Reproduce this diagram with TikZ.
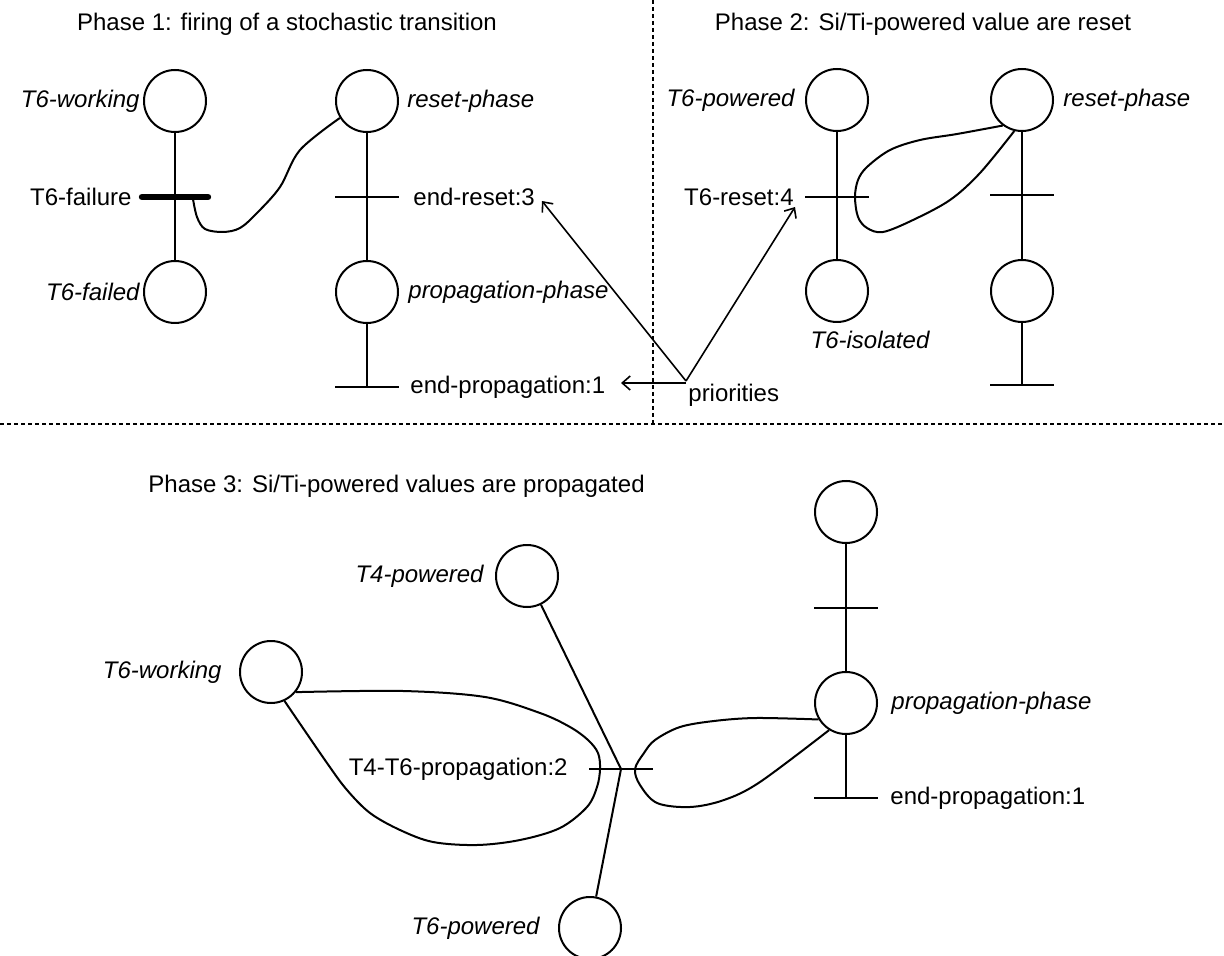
\documentclass[tikz,border=0pt]{standalone}
\usepackage{fontspec}
\setmainfont{Liberation Sans}
\usetikzlibrary{arrows.meta}
\begin{document}
\begin{tikzpicture}[x=0.5pt,y=-0.5pt,
  every node/.style={font=\fontsize{12}{14}\selectfont},
  place/.style={draw, circle, minimum size=31pt, inner sep=0pt, line width=1pt},
  lab/.style={font=\fontsize{12}{14}\selectfont\itshape, inner sep=0pt},
  tlab/.style={inner sep=0pt},
  tbar/.style={inner sep=0pt, outer sep=0pt, minimum width=32pt, minimum height=0pt},
  arc/.style={line width=1pt},
  barline/.style={line width=1pt},
  thickbar/.style={line width=3.2pt, line cap=round},
  sep/.style={line width=0.8pt, dash pattern=on 2pt off 1.5pt},
  prio/.style={line width=0.8pt, -{Straight Barb[length=4pt,width=7pt]}}
]
\fill[white] (0,0) rectangle (1224,956);
\useasboundingbox (0,0) rectangle (1224,956);

% separators
\draw[sep] (653,0) -- (653,424);
\draw[sep] (0,424) -- (1224,424);

% ---------------- Phase 1
\node[tlab] (title1) at (287,24) {Phase 1: firing of a stochastic transition};
\node[place] (p1w) at (175,101) {};
\node[lab, anchor=east] (l1w) at (140,101) {T6-working};
\node[place] (p1r) at (367,101) {};
\node[lab, anchor=west] (l1r) at (407,101) {reset-phase};
\node[tbar, minimum width=33pt] (t1f) at (175,197) {};
\node[tlab, anchor=east] (l1f) at (132,197) {T6-failure};
\node[tbar] (t1r) at (367,197) {};
\node[tlab, anchor=west] (l1er) at (413,197) {end-reset:3};
\node[place] (p1fd) at (175,292) {};
\node[lab, anchor=east] (l1fd) at (140,292) {T6-failed};
\node[place] (p1pp) at (367,292) {};
\node[lab, anchor=west] (l1pp) at (408,292) {propagation-phase};
\node[tbar] (t1p) at (367,387) {};
\node[tlab, anchor=west] (l1ep) at (410,387) {end-propagation:1};

\draw[thickbar] (t1f.west) -- (t1f.east);
\draw[barline] (t1r.west) -- (t1r.east);
\draw[barline] (t1p.west) -- (t1p.east);
\draw[arc] (p1w) -- (t1f.center) -- (p1fd);
\draw[arc] (p1r) -- (t1r.center) -- (p1pp);
\draw[arc] (p1pp) -- (t1p.center);
\coordinate (c1f) at (193,199);
\draw[arc] plot[smooth, tension=0.55] coordinates {(p1r.212) (300,150) (280,187) (257,213) (240,228) (223,232) (205,229) (197,217) (c1f)};

% priorities
\node[tlab, anchor=north west] (prio) at (688,384) {priorities};
\coordinate (pj) at (686,381);
\coordinate (pa1) at (542,201);
\coordinate (pa2) at (795,207);
\coordinate (pa3) at (621,383);
\draw[prio] (pj) -- (pa1);
\draw[prio] (pj) -- (pa2);
\draw[prio] (686,383) -- (pa3);

% ---------------- Phase 2
\node[tlab] (title2) at (923,24) {Phase 2: Si/Ti-powered value are reset};
\node[place] (p2p) at (837,100) {};
\node[lab, anchor=east] (l2p) at (795,100) {T6-powered};
\node[place] (p2r) at (1022,100) {};
\node[lab, anchor=west] (l2r) at (1063,100) {reset-phase};
\node[tbar] (t2r) at (837,197) {};
\node[tlab, anchor=east] (l2t) at (794,197) {T6-reset:4};
\node[tbar] (t2e) at (1022,195) {};
\node[place] (p2i) at (837,291) {};
\node[lab] (l2i) at (870,340) {T6-isolated};
\node[place] (p2pp) at (1022,291) {};
\node[tbar] (t2p) at (1022,385) {};

\draw[barline] (t2r.west) -- (t2r.east);
\draw[barline] (t2e.west) -- (t2e.east);
\draw[barline] (t2p.west) -- (t2p.east);
\draw[arc] (p2p) -- (t2r.center) -- (p2i);
\draw[arc] (p2r) -- (t2e.center) -- (p2pp);
\draw[arc] (p2pp) -- (t2p.center);
\draw[arc] plot[smooth, tension=0.55] coordinates {(p2r.233) (957,134) (920,140) (890,150) (867,167) (858,180) (855,197) (858,217) (867,228) (883,232) (913,220) (950,200) (980,173) (p2r.256)};

% ---------------- Phase 3
\node[tlab, anchor=west] (title3) at (148,486) {Phase 3: Si/Ti-powered values are propagated};
\node[place] (p3a) at (846,512) {};
\node[tbar] (t3a) at (846,608) {};
\node[place] (p3pp) at (846,703) {};
\node[lab, anchor=west] (l3pp) at (891,703) {propagation-phase};
\node[tbar] (t3e) at (846,798) {};
\node[tlab, anchor=west] (l3e) at (890,798) {end-propagation:1};

\node[place] (p3t4) at (527,576) {};
\node[lab, anchor=east] (l3t4) at (484,576) {T4-powered};
\node[place] (p3w) at (271,672) {};
\node[lab, anchor=east] (l3w) at (222,672) {T6-working};
\node[tbar] (t46) at (621,769) {};
\node[tlab, anchor=east] (l46) at (568,769) {T4-T6-propagation:2};
\node[place] (p3t6) at (590,928) {};
\node[lab, anchor=east] (l3t6) at (540,928) {T6-powered};

\draw[barline] (t3a.west) -- (t3a.east);
\draw[barline] (t3e.west) -- (t3e.east);
\draw[barline] (t46.west) -- (t46.east);
\draw[arc] (p3a) -- (t3a.center) -- (p3pp);
\draw[arc] (p3pp) -- (t3e.center);
\draw[arc] (p3t4) -- (t46.center) -- (p3t6);
\draw[arc] plot[smooth, tension=0.55] coordinates {(p3w.-65) (327,763) (347,790) (370,813) (400,830) (433,842) (477,845) (520,840) (560,828) (587,807) (597,787) (600,769) (598,753) (588,740) (570,727) (540,713) (485,697) (403,691) (p3w.-39)};
\draw[arc] plot[smooth, tension=0.55] coordinates {(p3pp.211) (756,718) (714,721) (680,727) (655,740) (644,753) (635,769) (640,785) (657,803) (690,807) (724,800) (760,782) (p3pp.238)};
\end{tikzpicture}
\end{document}
